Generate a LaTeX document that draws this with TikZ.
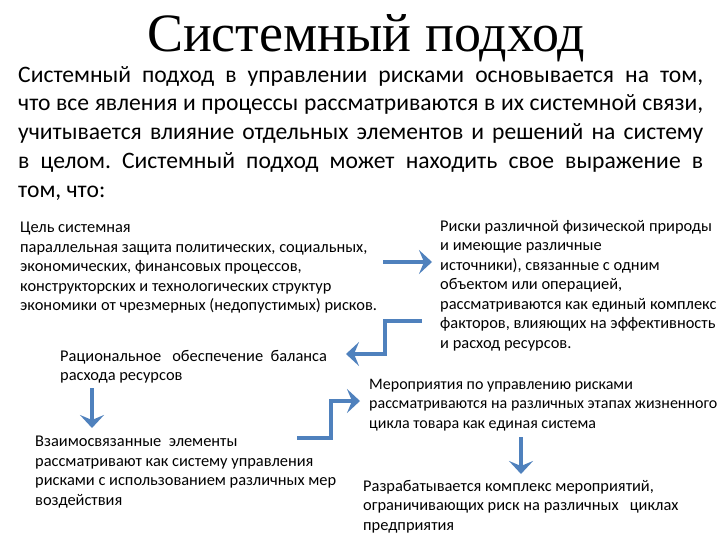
\documentclass[tikz,border=0pt]{standalone}
\usepackage{fontspec}
\setmainfont{Carlito}
\newfontfamily\titlefont{Liberation Serif}
\usetikzlibrary{arrows.meta}
\definecolor{arrblue}{RGB}{79,129,189}
\tikzset{
  blk/.style={anchor=north west, align=left, inner sep=0pt, font=\fontsize{16.4}{19.5}\selectfont},
  barrow/.style={draw=arrblue, line width=4.5pt, -{Stealth[length=13pt,width=24pt,inset=5pt]}}
}
\begin{document}
\frenchspacing
\begin{tikzpicture}[x=1pt,y=1pt]
\useasboundingbox[fill=white] (0,0) rectangle (720,-540);
\node[anchor=base, inner sep=0pt, font=\titlefont\fontsize{54}{60}\selectfont] (title) at (366,-52) {Системный подход};
\node[anchor=north west, align=left, inner sep=0pt, font=\fontsize{23.6}{28.8}\selectfont] (body) at (18,-66) {%
\makebox[685pt][s]{Системный подход в управлении рисками основывается на том,}\\
\makebox[685pt][s]{что все явления и процессы рассматриваются в их системной связи,}\\
\makebox[685pt][s]{учитывается влияние отдельных элементов и решений на систему}\\
\makebox[685pt][s]{в целом. Системный подход может находить свое выражение в}\\
том, что:};
\node[blk] (goal) at (20,-222) {Цель системная\\
параллельная защита политических, социальных,\\
экономических, финансовых процессов,\\
конструкторских и технологических структур\\
экономики от чрезмерных (недопустимых) рисков.};
\node[blk] (risks) at (440,-220) {Риски различной физической природы\\
и имеющие различные\\
источники), связанные с одним\\
объектом или операцией,\\
рассматриваются как единый комплекс\\
факторов, влияющих на эффективность\\
и расход ресурсов.};
\node[blk] (ration) at (60,-350) {Рациональное~~ обеспечение~ баланса\\
расхода ресурсов};
\node[blk] (inter) at (35,-436) {Взаимосвязанные~ элементы\\
рассматривают как систему управления\\
рисками с использованием различных мер\\
воздействия};
\node[blk, font=\fontsize{16}{19.5}\selectfont] (meas) at (369,-379) {Мероприятия по управлению рисками\\
рассматриваются на различных этапах жизненного\\
цикла товара как единая система};
\node[blk] (dev) at (363,-480) {Разрабатывается комплекс мероприятий,\\
ограничивающих риск на различных~~ циклах\\
предприятия};
\coordinate (a1s) at (383,-262); \coordinate (a1e) at (432,-262);
\coordinate (a2s) at (422,-321); \coordinate (a2e) at (346,-354);
\coordinate (a3s) at (297,-438); \coordinate (a3e) at (360,-401);
\coordinate (a4s) at (92,-388); \coordinate (a4e) at (92,-428);
\coordinate (a5s) at (521,-437); \coordinate (a5e) at (521,-474);
\draw[barrow] (a1s) -- (a1e);
\draw[barrow] (a2s) -- (385,-321) -- (385,-354) -- (a2e);
\draw[barrow] (a3s) -- (331,-438) -- (331,-401) -- (a3e);
\draw[barrow] (a4s) -- (a4e);
\draw[barrow] (a5s) -- (a5e);
\end{tikzpicture}
\end{document}
